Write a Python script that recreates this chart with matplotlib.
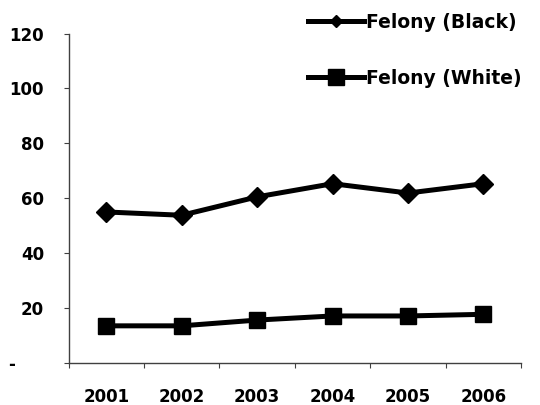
import matplotlib.pyplot as plt
import numpy as np

plt.rcParams['font.family'] = 'DejaVu Sans'
plt.rcParams['font.weight'] = 'bold'

years = ['2001', '2002', '2003', '2004', '2005', '2006']
black = [55.0, 53.8, 60.5, 65.3, 61.9, 65.3]
white = [13.5, 13.5, 15.6, 17.1, 17.1, 17.7]
yticks = [0, 20, 40, 60, 80, 100, 120]
ylabels = ['-     ', '20', '40', '60', '80', '100', '120']

fig = plt.figure(figsize=(5.4, 4.05), dpi=100)
ax = fig.add_axes([0.127, 0.104, 0.838, 0.813])

x = np.arange(len(years)) + 0.5
ax.plot(x, black, color='black', lw=3.6, marker='D', ms=10, label='Felony (Black)')
ax.plot(x, white, color='black', lw=3.6, marker='s', ms=12, label='Felony (White)')

ax.set_xlim(0, len(years))
ax.set_ylim(0, 120)
ax.set_xticks(np.arange(len(years) + 1))
ax.set_xticklabels([])
ax.set_xticks(x, minor=True)
ax.set_xticklabels(years, minor=True, fontsize=12, fontweight='bold')
ax.tick_params(axis='x', which='minor', length=0, pad=18)
ax.tick_params(axis='x', which='major', length=3.6, direction='out', color='#404040')
ax.set_yticks(yticks)
ax.set_yticklabels(ylabels, fontsize=12, fontweight='bold')
ax.tick_params(axis='y', length=3.6, pad=14, color='#404040')

for s in ['top', 'right']:
    ax.spines[s].set_visible(False)
for s in ['left', 'bottom']:
    ax.spines[s].set_color('#404040')
    ax.spines[s].set_linewidth(1)

# legend placed top right, like the original
leg = fig.legend(loc='upper left', bbox_to_anchor=(308 / 540, 1 - 13 / 405), frameon=False,
                 handlelength=3.0, handletextpad=0.12, borderaxespad=0, borderpad=0,
                 labelspacing=1.95, prop={'weight': 'bold', 'size': 13.5})
hs = leg.legend_handles
hs[0].set_markersize(6)
hs[1].set_markersize(12)

fig.savefig('out.png', dpi=100)
